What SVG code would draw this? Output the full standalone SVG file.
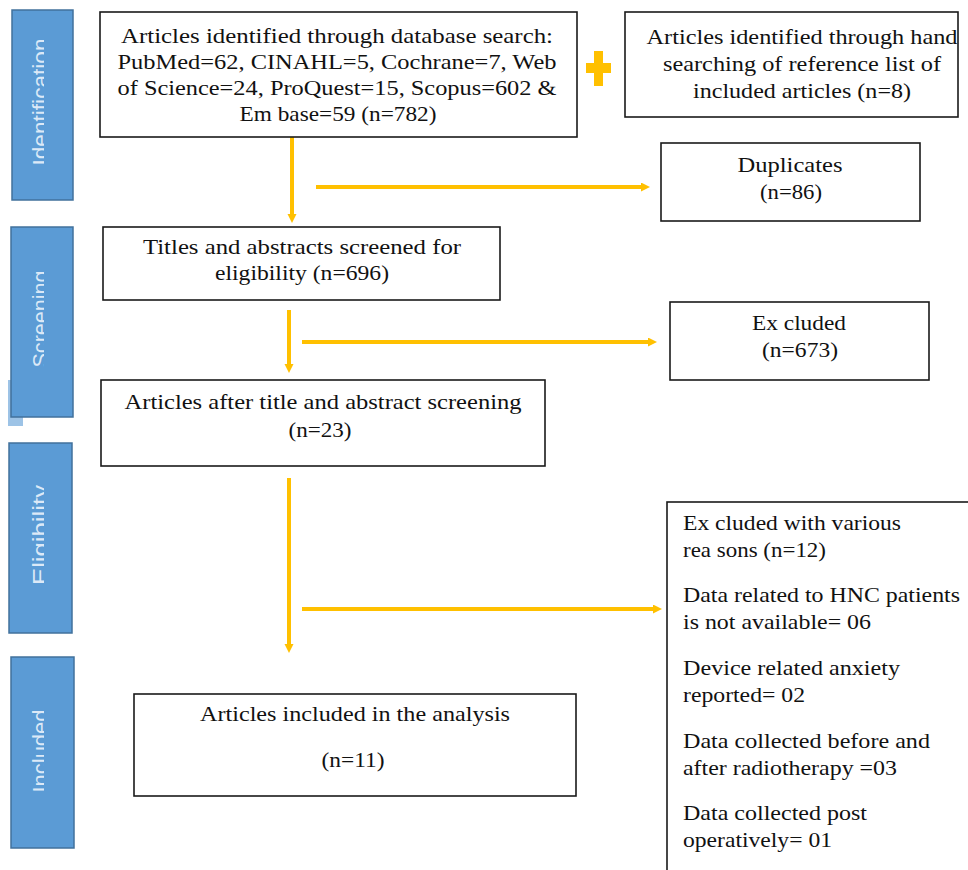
<svg xmlns="http://www.w3.org/2000/svg" width="968" height="870" viewBox="0 0 968 870">
<style>
.box{fill:#fff;stroke:#1a1a1a;stroke-width:1.6}
.bar{fill:#5b9bd5;stroke:#41719c;stroke-width:1.5}
.t{font-family:"Liberation Serif","Times New Roman",serif;font-size:21px;fill:#111}
.c{text-anchor:middle}
.side{font-family:"Liberation Sans",Arial,sans-serif;font-size:22px;fill:#dce9f7;text-anchor:middle}
.arr{stroke:#ffc000;stroke-width:4;fill:none}
</style>
<defs>
<marker id="ah" markerUnits="userSpaceOnUse" markerWidth="10" markerHeight="10" refX="1" refY="4.5" orient="auto">
<path d="M0,0 L9,4.5 L0,9 z" fill="#ffc000"/>
</marker>
<clipPath id="sc"><rect x="27" y="0" width="17" height="870"/></clipPath>
</defs>
<rect width="968" height="870" fill="#fff"/>

<g id="stage-identification">
<rect class="bar" x="12" y="10" width="61" height="190"/>
<g clip-path="url(#sc)"><text class="side" transform="translate(48,102) rotate(-90)" textLength="127" lengthAdjust="spacingAndGlyphs">Identification</text></g>
</g>
<g id="stage-screening">
<rect x="8" y="380" width="15" height="46" fill="#9dc3e6"/>
<rect class="bar" x="11" y="227" width="62" height="190"/>
<g clip-path="url(#sc)"><text class="side" transform="translate(48,319) rotate(-90)" textLength="97" lengthAdjust="spacingAndGlyphs">Screening</text></g>
</g>
<g id="stage-eligibility">
<rect class="bar" x="9" y="443" width="63" height="190"/>
<g clip-path="url(#sc)"><text class="side" transform="translate(48,535) rotate(-90)" textLength="100" lengthAdjust="spacingAndGlyphs">Eligibility</text></g>
</g>
<g id="stage-included">
<rect class="bar" x="11" y="657" width="63" height="191"/>
<g clip-path="url(#sc)"><text class="side" transform="translate(48,751) rotate(-90)" textLength="83" lengthAdjust="spacingAndGlyphs">Included</text></g>
</g>

<g id="connectors">
<line class="arr" x1="292" y1="137" x2="292" y2="215" marker-end="url(#ah)"/>
<line class="arr" x1="316" y1="187" x2="642" y2="187" marker-end="url(#ah)"/>
<line class="arr" x1="289" y1="310" x2="289" y2="365" marker-end="url(#ah)"/>
<line class="arr" x1="302" y1="342" x2="649" y2="342" marker-end="url(#ah)"/>
<line class="arr" x1="289" y1="478" x2="289" y2="645" marker-end="url(#ah)"/>
<line class="arr" x1="302" y1="609" x2="654" y2="609" marker-end="url(#ah)"/>
</g>

<g id="plus">
<rect x="586" y="63" width="25" height="10" fill="#ffc000"/>
<rect x="594" y="51" width="9" height="35" fill="#ffc000"/>
</g>

<g id="db-search">
<rect class="box" x="100" y="12" width="477" height="125"/>
<text class="t c" x="337" y="43" textLength="432" lengthAdjust="spacingAndGlyphs">Articles identified through database search:</text>
<text class="t c" x="337" y="69" textLength="439" lengthAdjust="spacingAndGlyphs">PubMed=62, CINAHL=5, Cochrane=7, Web</text>
<text class="t c" x="337" y="95" textLength="439" lengthAdjust="spacingAndGlyphs">of Science=24, ProQuest=15, Scopus=602 &amp;</text>
<text class="t c" x="338" y="121" textLength="197" lengthAdjust="spacingAndGlyphs">Em base=59 (n=782)</text>
</g>

<g id="hand-search">
<rect class="box" x="625" y="12" width="333" height="105"/>
<text class="t c" x="802" y="44" textLength="311" lengthAdjust="spacingAndGlyphs">Articles identified through hand</text>
<text class="t c" x="802" y="71" textLength="278" lengthAdjust="spacingAndGlyphs">searching of reference list of</text>
<text class="t c" x="802" y="98" textLength="218" lengthAdjust="spacingAndGlyphs">included articles (n=8)</text>
</g>

<g id="duplicates">
<rect class="box" x="661" y="143" width="259" height="78"/>
<text class="t c" x="790" y="172" textLength="105" lengthAdjust="spacingAndGlyphs">Duplicates</text>
<text class="t c" x="791" y="199" textLength="62" lengthAdjust="spacingAndGlyphs">(n=86)</text>
</g>

<g id="titles-screened">
<rect class="box" x="103" y="227" width="397" height="73"/>
<text class="t c" x="302" y="254" textLength="318" lengthAdjust="spacingAndGlyphs">Titles and abstracts screened for</text>
<text class="t c" x="302" y="280" textLength="174" lengthAdjust="spacingAndGlyphs">eligibility  (n=696)</text>
</g>

<g id="excluded">
<rect class="box" x="670" y="302" width="259" height="78"/>
<text class="t c" x="799" y="330" textLength="94" lengthAdjust="spacingAndGlyphs">Ex cluded</text>
<text class="t c" x="800" y="357" textLength="76" lengthAdjust="spacingAndGlyphs">(n=673)</text>
</g>

<g id="after-screening">
<rect class="box" x="101" y="380" width="444" height="86"/>
<text class="t c" x="323" y="409" textLength="397" lengthAdjust="spacingAndGlyphs">Articles after title and abstract screening</text>
<text class="t c" x="320" y="437" textLength="63" lengthAdjust="spacingAndGlyphs">(n=23)</text>
</g>

<g id="included-analysis">
<rect class="box" x="134" y="694" width="442" height="102"/>
<text class="t c" x="355" y="721" textLength="310" lengthAdjust="spacingAndGlyphs">Articles included in the analysis</text>
<text class="t c" x="353" y="767" textLength="63" lengthAdjust="spacingAndGlyphs">(n=11)</text>
</g>

<g id="excluded-reasons">
<rect class="box" x="667" y="502" width="320" height="380"/>
<text class="t" x="683" y="530" textLength="218" lengthAdjust="spacingAndGlyphs">Ex cluded with various</text>
<text class="t" x="683" y="557" textLength="143" lengthAdjust="spacingAndGlyphs">rea sons (n=12)</text>
<text class="t" x="683" y="602" textLength="277" lengthAdjust="spacingAndGlyphs">Data related to HNC patients</text>
<text class="t" x="683" y="629" textLength="188" lengthAdjust="spacingAndGlyphs">is not available= 06</text>
<text class="t" x="683" y="675" textLength="217" lengthAdjust="spacingAndGlyphs">Device related anxiety</text>
<text class="t" x="683" y="702" textLength="122" lengthAdjust="spacingAndGlyphs">reported= 02</text>
<text class="t" x="683" y="748" textLength="247" lengthAdjust="spacingAndGlyphs">Data collected before and</text>
<text class="t" x="683" y="775" textLength="214" lengthAdjust="spacingAndGlyphs">after radiotherapy =03</text>
<text class="t" x="683" y="820" textLength="184" lengthAdjust="spacingAndGlyphs">Data collected post</text>
<text class="t" x="683" y="847" textLength="149" lengthAdjust="spacingAndGlyphs">operatively= 01</text>
</g>
</svg>
